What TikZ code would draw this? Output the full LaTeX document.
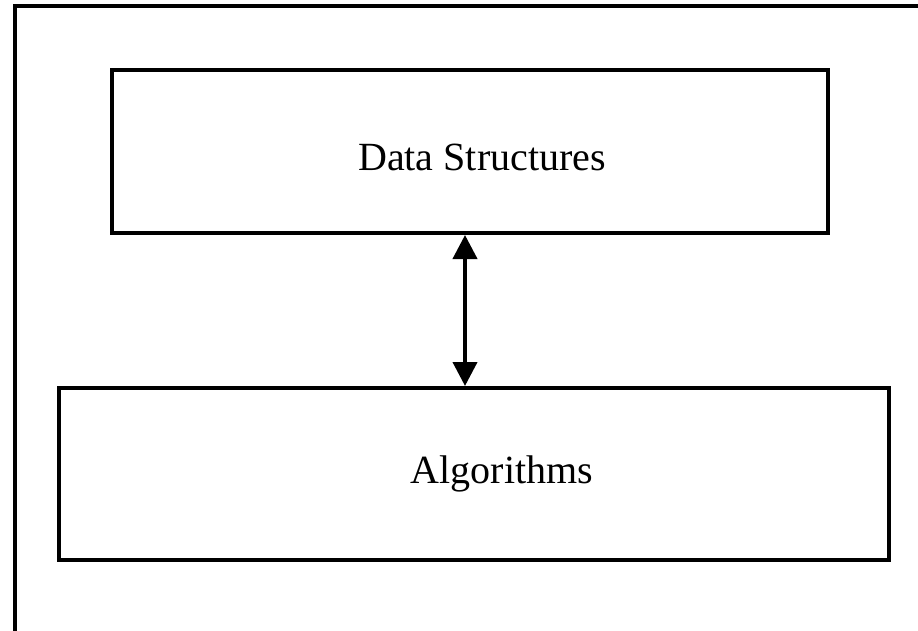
\documentclass[tikz,border=0pt]{standalone}
\usepackage{fontspec}
\setmainfont{Liberation Serif}
\usetikzlibrary{calc,positioning,arrows.meta}

\begin{document}
\begin{tikzpicture}[x=1pt,y=-1pt,
  box/.style={draw, line width=4pt, rectangle, inner sep=0pt},
  boxtext/.style={font=\fontsize{40}{48}\selectfont},
  both/.style={line width=4pt, {Triangle[width=24pt,length=24pt]}-{Triangle[width=24pt,length=24pt]}}]
\useasboundingbox (0,0) rectangle (918,631);
% outer frame
\draw[line width=4pt] (15,631) -- (15,6) -- (918,6);
\node [box, minimum width=716pt, minimum height=163pt] (ds) at (470,151.5) {};
\node [box, minimum width=830pt, minimum height=172pt] (alg) at (474,474) {};
\node [boxtext] (dstext) at ([xshift=12pt,yshift=-6pt]ds.center) {Data Structures};
\node [boxtext] (algtext) at ([xshift=28pt]alg.center) {Algorithms};
\draw[both] ([xshift=-5pt]ds.south) -- ([xshift=-5pt]ds.south |- alg.north);
\end{tikzpicture}
\end{document}
